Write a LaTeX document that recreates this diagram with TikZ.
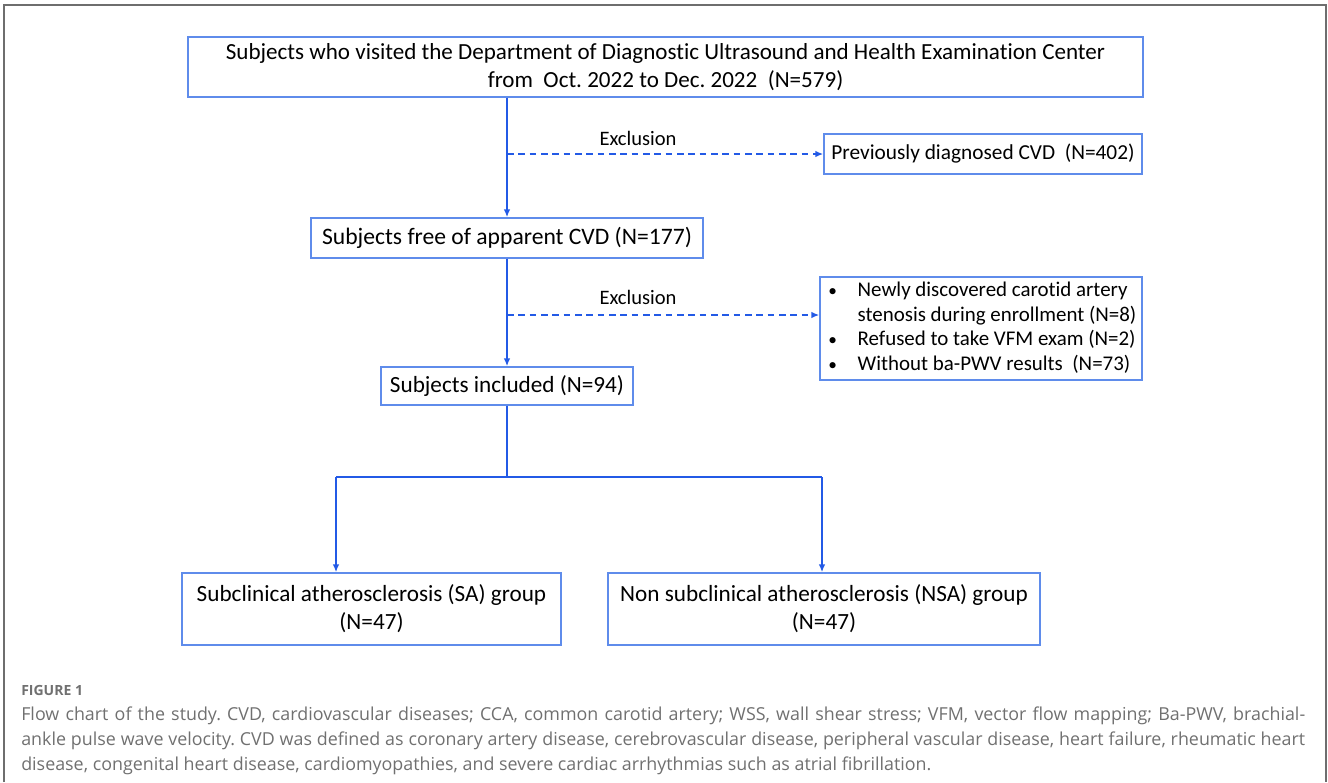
\documentclass[tikz,border=0pt]{standalone}
\usepackage{fontspec}
\setmainfont[Ligatures=NoCommon]{Carlito}
\newfontfamily\capfont{Open Sans}
\usetikzlibrary{arrows.meta}
\frenchspacing
\definecolor{boxblue}{RGB}{95,140,235}
\definecolor{arrowblue}{RGB}{35,90,230}
\definecolor{framegray}{RGB}{110,110,110}
\definecolor{capgray}{RGB}{112,112,112}
\tikzset{
  box/.style={draw=boxblue, line width=1.1pt, inner sep=0pt, align=center, font=\fontsize{17.4}{21}\selectfont},
  flow/.style={draw=arrowblue, line width=1.3pt},
  flowarrow/.style={flow, -{Latex[length=6pt,width=5pt]}},
  exarrow/.style={flowarrow, dashed, dash pattern=on 5pt off 3.5pt},
  exlabel/.style={font=\fontsize{15.4}{17}\selectfont, inner sep=0pt},
  caption/.style={font=\capfont\fontsize{13.4}{15}\selectfont, text=capgray, anchor=base west, inner sep=0pt}
}
\newcommand{\listbullet}{\makebox[24pt][l]{\hspace{2pt}\fontsize{13}{13}\selectfont\textbullet}}
\begin{document}
\begin{tikzpicture}[x=0.75pt,y=-0.75pt]
\frenchspacing
\useasboundingbox (0,0) rectangle (1328,782);
% outer frame
\draw[framegray, line width=1.5pt] (4,782) -- (4,5) -- (1326,5) -- (1326,782);
% boxes
\node[box, minimum width=716.25pt, minimum height=45pt, font=\fontsize{17.3}{21}\selectfont] (top) at (665.5,67)
  {Subjects who visited the Department of Diagnostic Ultrasound and Health Examination Center\\
   from~ Oct. 2022 to Dec. 2022~ (N=579)};
\node[box, minimum width=238.5pt, minimum height=30pt, font=\fontsize{16}{20}\selectfont] (prev) at (983,154)
  {Previously diagnosed CVD~ (N=402)};
\node[box, minimum width=294pt, minimum height=30pt, font=\fontsize{17.7}{20}\selectfont] (free) at (507,238)
  {Subjects free of apparent CVD (N=177)};
\node[box, minimum width=241.5pt, minimum height=77.25pt, font=\fontsize{15.7}{18.5}\selectfont] (list) at (981,328.5)
  {\begin{tabular}{@{}l@{}l@{}}
   \listbullet & Newly discovered carotid artery\\
   & stenosis during enrollment (N=8)\\
   \listbullet & Refused to take VFM exam (N=2)\\
   \listbullet & Without ba-PWV results~ (N=73)
   \end{tabular}};
\node[box, minimum width=189pt, minimum height=28.5pt] (incl) at (507,386)
  {Subjects included (N=94)};
\node[box, minimum width=284pt, minimum height=54pt] (sa) at (371.5,609)
  {Subclinical atherosclerosis (SA) group\\(N=47)};
\node[box, minimum width=324pt, minimum height=54pt] (nsa) at (824,609)
  {Non subclinical atherosclerosis (NSA) group\\(N=47)};
% labels
\node[exlabel] (ex1lab) at (638,138) {Exclusion};
\node[exlabel] (ex2lab) at (638,297) {Exclusion};
% coordinates
\coordinate (ex2) at (507,315);
\coordinate (j) at (507,477);
\coordinate (bl) at (336,477);
\coordinate (br) at (822,477);
% connectors
\draw[flowarrow] (free.north |- top.south) -- (free.north);
\draw[exarrow] (free.north |- prev.west) -- (prev.west);
\draw[flowarrow] (free.south) -- (incl.north);
\draw[exarrow] (ex2) -- (ex2 -| list.west);
\draw[flow] (incl.south) -- (j);
\draw[flow] (bl) -- (br);
\draw[flowarrow] (bl) -- (bl |- sa.north);
\draw[flowarrow] (br) -- (br |- nsa.north);
% caption
\node[caption, font=\capfont\bfseries\fontsize{10.5}{12}\selectfont] (figlab) at (21,695) {FIGURE 1};
\node[caption] (cap1) at (21,720) {\makebox[963pt][s]{Flow chart of the study. CVD, cardiovascular diseases; CCA, common carotid artery; WSS, wall shear stress; VFM, vector flow mapping; Ba-PWV, brachial-}};
\node[caption] (cap2) at (21,745) {\makebox[963pt][s]{ankle pulse wave velocity. CVD was defined as coronary artery disease, cerebrovascular disease, peripheral vascular disease, heart failure, rheumatic heart}};
\node[caption] (cap3) at (21,770) {disease, congenital heart disease, cardiomyopathies, and severe cardiac arrhythmias such as atrial fibrillation.};
\end{tikzpicture}
\end{document}
